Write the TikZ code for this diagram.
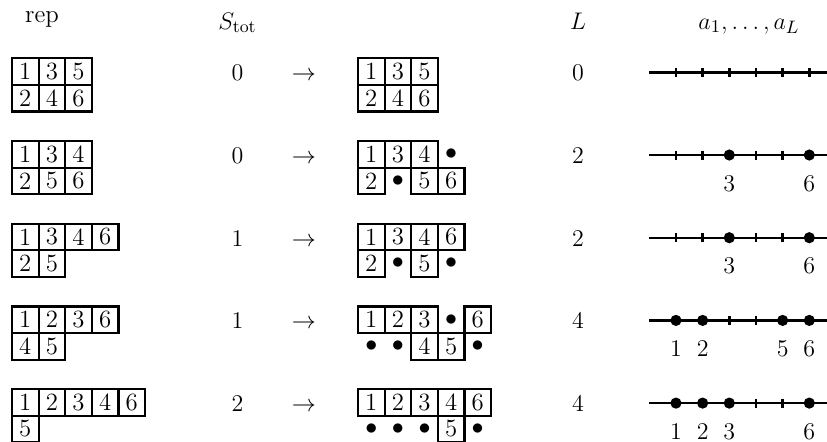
\documentclass[tikz,border=0pt]{standalone}
\usepackage{amsmath}
\tikzset{cell/.style={draw,line width=1.1pt,minimum size=13.3pt,inner sep=0pt},
  spot/.style={inner sep=0pt},
  site/.style={circle,fill,inner sep=0pt,minimum size=5.6pt},
  axis/.style={line width=1.2pt}}
\begin{document}
\begin{tikzpicture}[x=0.5pt,y=-0.5pt,every node/.style={font=\fontsize{12.4}{15}\selectfont}]
\useasboundingbox (0,0) rectangle (827,441);
\node[anchor=base] (hrep) at (42,22) {rep}; \node[anchor=base] (hstot) at (237.5,29) {$S_{\text{tot}}$}; \node[anchor=base] (hlen) at (578,29) {$L$}; \node[anchor=base] (hsite) at (749,29) {$a_1,\dots,a_L$};
% first row
\begin{scope}[shift={(0,58.3)}]
\foreach \c/\lbl in {1/1,2/3,3/5} \node[cell] (rep1a\c) at (26.6*\c-1.3,13.3) {\lbl};
\foreach \c/\lbl in {1/2,2/4,3/6} \node[cell] (rep1b\c) at (26.6*\c-1.3,39.9) {\lbl};
\node[anchor=base] (stot1) at (237.5,22.5) {$0$}; \node[anchor=base] (to1) at (304,22.5) {$\to$};
\foreach \c/\lbl in {1/1,2/3,3/5} \node[cell] (out1a\c) at (26.6*\c+344.7,13.3) {\lbl};
\foreach \c/\lbl in {1/2,2/4,3/6} \node[cell] (out1b\c) at (26.6*\c+344.7,39.9) {\lbl};
\node[anchor=base] (len1) at (578,22.5) {$0$};
\coordinate (ax1w) at (649,14); \coordinate (ax1e) at (827,14); \draw[axis] (ax1w) -- (ax1e);
\foreach \k in {1,...,6} \draw[axis] (649.3+26.67*\k,9.5) -- ++(0,9);
\end{scope}
% second row
\begin{scope}[shift={(0,141)}]
\foreach \c/\lbl in {1/1,2/3,3/4} \node[cell] (rep2a\c) at (26.6*\c-1.3,13.3) {\lbl};
\foreach \c/\lbl in {1/2,2/5,3/6} \node[cell] (rep2b\c) at (26.6*\c-1.3,39.9) {\lbl};
\node[anchor=base] (stot2) at (237.5,22.5) {$0$}; \node[anchor=base] (to2) at (304,22.5) {$\to$};
\foreach \c/\lbl in {1/1,2/3,3/4} \node[cell] (out2a\c) at (26.6*\c+344.7,13.3) {\lbl};
\node[spot] (out2a4) at (26.6*4+344.7,13.3) {$\bullet$};
\foreach \c/\lbl in {1/2,3/5,4/6} \node[cell] (out2b\c) at (26.6*\c+344.7,39.9) {\lbl};
\node[spot] (out2b2) at (26.6*2+344.7,39.9) {$\bullet$};
\node[anchor=base] (len2) at (578,22.5) {$2$};
\coordinate (ax2w) at (649,14); \coordinate (ax2e) at (827,14); \draw[axis] (ax2w) -- (ax2e);
\foreach \k in {1,...,6} \draw[axis] (649.3+26.67*\k,9.5) -- ++(0,9);
\foreach \k in {3,6} {\node[site] (dot2s\k) at (649.3+26.67*\k,14) {}; \node[anchor=base] (lab2s\k) at (649.3+26.67*\k,50) {$\k$};}
\end{scope}
% third row
\begin{scope}[shift={(0,223.7)}]
\foreach \c/\lbl in {1/1,2/3,3/4,4/6} \node[cell] (rep3a\c) at (26.6*\c-1.3,13.3) {\lbl};
\foreach \c/\lbl in {1/2,2/5} \node[cell] (rep3b\c) at (26.6*\c-1.3,39.9) {\lbl};
\node[anchor=base] (stot3) at (237.5,22.5) {$1$}; \node[anchor=base] (to3) at (304,22.5) {$\to$};
\foreach \c/\lbl in {1/1,2/3,3/4,4/6} \node[cell] (out3a\c) at (26.6*\c+344.7,13.3) {\lbl};
\foreach \c/\lbl in {1/2,3/5} \node[cell] (out3b\c) at (26.6*\c+344.7,39.9) {\lbl};
\foreach \c in {2,4} \node[spot] (out3b\c) at (26.6*\c+344.7,39.9) {$\bullet$};
\node[anchor=base] (len3) at (578,22.5) {$2$};
\coordinate (ax3w) at (649,14); \coordinate (ax3e) at (827,14); \draw[axis] (ax3w) -- (ax3e);
\foreach \k in {1,...,6} \draw[axis] (649.3+26.67*\k,9.5) -- ++(0,9);
\foreach \k in {3,6} {\node[site] (dot3s\k) at (649.3+26.67*\k,14) {}; \node[anchor=base] (lab3s\k) at (649.3+26.67*\k,50) {$\k$};}
\end{scope}
% fourth row
\begin{scope}[shift={(0,306.4)}]
\foreach \c/\lbl in {1/1,2/2,3/3,4/6} \node[cell] (rep4a\c) at (26.6*\c-1.3,13.3) {\lbl};
\foreach \c/\lbl in {1/4,2/5} \node[cell] (rep4b\c) at (26.6*\c-1.3,39.9) {\lbl};
\node[anchor=base] (stot4) at (237.5,22.5) {$1$}; \node[anchor=base] (to4) at (304,22.5) {$\to$};
\foreach \c/\lbl in {1/1,2/2,3/3,5/6} \node[cell] (out4a\c) at (26.6*\c+344.7,13.3) {\lbl};
\node[spot] (out4a4) at (26.6*4+344.7,13.3) {$\bullet$};
\foreach \c/\lbl in {3/4,4/5} \node[cell] (out4b\c) at (26.6*\c+344.7,39.9) {\lbl};
\foreach \c in {1,2,5} \node[spot] (out4b\c) at (26.6*\c+344.7,39.9) {$\bullet$};
\node[anchor=base] (len4) at (578,22.5) {$4$};
\coordinate (ax4w) at (649,14); \coordinate (ax4e) at (827,14); \draw[axis] (ax4w) -- (ax4e);
\foreach \k in {1,...,6} \draw[axis] (649.3+26.67*\k,9.5) -- ++(0,9);
\foreach \k in {1,2,5,6} {\node[site] (dot4s\k) at (649.3+26.67*\k,14) {}; \node[anchor=base] (lab4s\k) at (649.3+26.67*\k,50) {$\k$};}
\end{scope}
% fifth row
\begin{scope}[shift={(0,389.1)}]
\foreach \c/\lbl in {1/1,2/2,3/3,4/4,5/6} \node[cell] (rep5a\c) at (26.6*\c-1.3,13.3) {\lbl};
\node[cell] (rep5b1) at (26.6-1.3,39.9) {5};
\node[anchor=base] (stot5) at (237.5,22.5) {$2$}; \node[anchor=base] (to5) at (304,22.5) {$\to$};
\foreach \c/\lbl in {1/1,2/2,3/3,4/4,5/6} \node[cell] (out5a\c) at (26.6*\c+344.7,13.3) {\lbl};
\node[cell] (out5b4) at (26.6*4+344.7,39.9) {5};
\foreach \c in {1,2,3,5} \node[spot] (out5b\c) at (26.6*\c+344.7,39.9) {$\bullet$};
\node[anchor=base] (len5) at (578,22.5) {$4$};
\coordinate (ax5w) at (649,14); \coordinate (ax5e) at (827,14); \draw[axis] (ax5w) -- (ax5e);
\foreach \k in {1,...,6} \draw[axis] (649.3+26.67*\k,9.5) -- ++(0,9);
\foreach \k in {1,2,3,6} {\node[site] (dot5s\k) at (649.3+26.67*\k,14) {}; \node[anchor=base] (lab5s\k) at (649.3+26.67*\k,50) {$\k$};}
\end{scope}
\end{tikzpicture}
\end{document}
